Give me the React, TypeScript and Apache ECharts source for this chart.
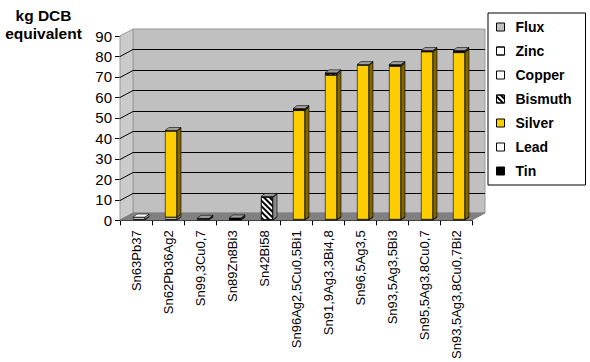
import React, { useEffect, useRef } from "react";
import * as echarts from "echarts";

const categories = [
  "Sn63Pb37",
  "Sn62Pb36Ag2",
  "Sn99,3Cu0,7",
  "Sn89Zn8Bi3",
  "Sn42Bi58",
  "Sn96Ag2,5Cu0,5Bi1",
  "Sn91,9Ag3,3Bi4,8",
  "Sn96,5Ag3,5",
  "Sn93,5Ag3,5Bi3",
  "Sn95,5Ag3,8Cu0,7",
  "Sn93,5Ag3,8Cu0,7Bi2",
];

// stacked from bottom to top
const tin = [0.3, 0.3, 0.2, 0.2, 0.1, 0.2, 0.2, 0.2, 0.2, 0.2, 0.2];
const lead = [1.1, 1.0, 0, 0, 0, 0, 0, 0, 0, 0, 0];
const silver = [0, 41.8, 0, 0, 0, 52.9, 69.9, 74.7, 74.2, 81.2, 80.9];
const bismuth = [0, 0, 0, 0.2, 11.0, 0.3, 0.8, 0, 0.5, 0, 0.3];
const copper = [0, 0, 0.4, 0, 0, 0.2, 0, 0, 0, 0.3, 0.3];
const zinc = [0, 0, 0, 0.4, 0, 0, 0, 0, 0, 0, 0];
const flux = [0, 0.2, 0.2, 0.2, 0.3, 0.3, 0.3, 0.3, 0.3, 0.3, 0.3];

const yTicks = [0, 10, 20, 30, 40, 50, 60, 70, 80, 90];
const legendOrder = ["Flux", "Zinc", "Copper", "Bismuth", "Silver", "Lead", "Tin"];

const FONT = "'Liberation Sans', Arial, sans-serif";
const DX = 13;
const DY = -7;
const BDX = 4;
const BDY = -3;
const BAR_W = 12;

const hatch = {
  symbol: "rect",
  symbolSize: 1,
  dashArrayX: [1, 0],
  dashArrayY: [2, 2],
  rotation: Math.PI / 4,
  color: "#000",
};
const dots = {
  symbol: "circle",
  symbolSize: 0.8,
  dashArrayX: [1, 2],
  dashArrayY: [1, 2],
  color: "#000",
};

const stackDefs = [
  { name: "Tin", data: tin, color: "#000000", side: "#000000", top: "#222222" },
  { name: "Lead", data: lead, color: "#ffffff", side: "#9a9a9a", top: "#ffffff" },
  { name: "Silver", data: silver, color: "#ffcc00", side: "#7f6600", top: "#c8a000" },
  { name: "Bismuth", data: bismuth, color: "#ffffff", side: "#8a8a8a", top: "#dddddd", decal: hatch },
  { name: "Copper", data: copper, color: "#ffffff", side: "#9a9a9a", top: "#eeeeee" },
  { name: "Zinc", data: zinc, color: "#ffffff", side: "#707070", top: "#999999", decal: dots },
  { name: "Flux", data: flux, color: "#c0c0c0", side: "#707070", top: "#a0a0a0" },
];

function renderFrame(params: any, api: any) {
  const bw = api.size([1, 0])[0];
  const c0 = api.coord([0, yTicks[0]]);
  const x0 = Math.round(c0[0] - bw / 2);
  const x1 = Math.round(x0 + bw * categories.length);
  const yb = Math.round(c0[1]);
  const yt = Math.round(api.coord([0, yTicks[yTicks.length - 1]])[1]);
  const children: any[] = [];
  children.push({
    type: "polygon",
    shape: { points: [[x0 + DX, yt + DY], [x1 + DX, yt + DY], [x1 + DX, yb + DY], [x0 + DX, yb + DY]] },
    style: { fill: "#c0c0c0", stroke: "#9a9a9a", lineWidth: 1 },
  });
  children.push({
    type: "polygon",
    shape: { points: [[x0, yt], [x0 + DX, yt + DY], [x0 + DX, yb + DY], [x0, yb]] },
    style: { fill: "#cbcbcb", stroke: "#9a9a9a", lineWidth: 1 },
  });
  children.push({
    type: "polygon",
    shape: { points: [[x0, yb], [x1, yb], [x1 + DX, yb + DY], [x0 + DX, yb + DY]] },
    style: { fill: "#808080", stroke: "#808080", lineWidth: 1 },
  });
  yTicks.forEach((t, k) => {
    if (k === 0 || k === yTicks.length - 1) return;
    const y = Math.round(api.coord([0, t])[1]) + 0.5;
    children.push({
      type: "line",
      shape: { x1: x0 + DX, y1: y + DY, x2: x1 + DX, y2: y + DY },
      style: { stroke: "#000", lineWidth: 1 },
    });
    children.push({
      type: "line",
      shape: { x1: x0, y1: y, x2: x0 + DX, y2: y + DY },
      style: { stroke: "#000", lineWidth: 1 },
    });
  });
  return { type: "group", children };
}

function renderBarFaces(params: any, api: any) {
  const i = api.value(0);
  const cx = api.coord([i, 0])[0];
  const xl = cx - BAR_W / 2;
  const xr = cx + BAR_W / 2;
  let cum = 0;
  let topY: number | null = null;
  let topColor = "#a0a0a0";
  const children: any[] = [];
  stackDefs.forEach((s) => {
    const v = s.data[i];
    if (!v) return;
    const yB = api.coord([i, cum])[1];
    cum += v;
    const yT = api.coord([i, cum])[1];
    children.push({
      type: "polygon",
      shape: { points: [[xr, yT], [xr + BDX, yT + BDY], [xr + BDX, yB + BDY], [xr, yB]] },
      style: { fill: s.side, stroke: "#000", lineWidth: 0.6 },
    });
    topY = yT;
    topColor = s.top;
  });
  if (topY !== null) {
    const yT = topY as number;
    children.push({
      type: "polygon",
      shape: { points: [[xl, yT], [xr, yT], [xr + BDX, yT + BDY], [xl + BDX, yT + BDY]] },
      style: { fill: topColor, stroke: "#000", lineWidth: 0.6 },
    });
  }
  return { type: "group", children };
}

export default function App() {
  const ref = useRef<HTMLDivElement>(null);
  useEffect(() => {
    if (!ref.current) return;
    const chart = echarts.init(ref.current, null, { renderer: "svg" });
    const yMin = yTicks[0];
    const yMax = yTicks[yTicks.length - 1];
    const yInt = yTicks[1] - yTicks[0];
    const option: any = {
      animation: false,
      backgroundColor: "#ffffff",
      textStyle: { fontFamily: FONT },
      grid: [
        { left: 120, top: 36, width: 352, height: 186 },
        { left: 123, top: 34, width: 352, height: 186 },
      ],
      xAxis: [
        {
          type: "category",
          gridIndex: 0,
          data: categories,
          axisLine: { show: true, lineStyle: { color: "#000", width: 1 } },
          axisTick: { show: true, alignWithLabel: false, length: 5, lineStyle: { color: "#000" } },
          axisLabel: {
            rotate: 90,
            interval: 0,
            fontSize: 13,
            color: "#000",
            margin: 10,
            fontFamily: FONT,
          },
          splitLine: { show: false },
        },
        { type: "category", gridIndex: 1, data: categories, show: false },
      ],
      yAxis: [
        {
          type: "value",
          gridIndex: 0,
          min: yMin,
          max: yMax,
          interval: yInt,
          axisLine: { show: true, lineStyle: { color: "#000", width: 1 } },
          axisTick: { show: true, length: 5, lineStyle: { color: "#000" } },
          axisLabel: { fontSize: 15, color: "#000", margin: 8, fontFamily: FONT },
          splitLine: { show: false },
        },
        { type: "value", gridIndex: 1, min: yMin, max: yMax, interval: yInt, show: false },
      ],
      legend: {
        data: legendOrder,
        orient: "vertical",
        left: 488,
        top: 13,
        padding: [7, 14, 7, 8],
        itemWidth: 8,
        itemHeight: 8,
        itemGap: 10,
        icon: "rect",
        selectedMode: false,
        backgroundColor: "#ffffff",
        borderColor: "#000",
        borderWidth: 1,
        borderRadius: 0,
        itemStyle: { borderColor: "#000", borderWidth: 1 },
        textStyle: {
          fontFamily: FONT,
          fontSize: 14,
          fontWeight: "bold",
          color: "#000",
          lineHeight: 14,
          padding: [0, 0, 0, 6],
        },
      },
      graphic: [
        {
          type: "text",
          x: 43.5,
          y: 15,
          style: {
            text: "kg DCB",
            font: `bold 15.5px ${FONT}`,
            fill: "#000",
            align: "center",
            verticalAlign: "middle",
          },
        },
        {
          type: "text",
          x: 43.5,
          y: 33,
          style: {
            text: "equivalent",
            font: `bold 15.5px ${FONT}`,
            fill: "#000",
            align: "center",
            verticalAlign: "middle",
          },
        },
      ],
      series: [
        {
          type: "custom",
          xAxisIndex: 0,
          yAxisIndex: 0,
          z: 1,
          silent: true,
          renderItem: renderFrame,
          data: [[0, 0]],
          encode: { x: 0, y: 1 },
        },
        ...stackDefs.map((s) => ({
          name: s.name,
          type: "bar",
          stack: "total",
          xAxisIndex: 1,
          yAxisIndex: 1,
          z: 2,
          barWidth: BAR_W,
          silent: true,
          itemStyle: {
            color: s.color,
            borderColor: "#000",
            borderWidth: 0.6,
            ...(s.decal ? { decal: s.decal } : {}),
          },
          data: s.data.map((v) => (v ? v : null)),
        })),
        {
          type: "custom",
          xAxisIndex: 1,
          yAxisIndex: 1,
          z: 3,
          silent: true,
          renderItem: renderBarFaces,
          data: categories.map((_, i) => [i, 0]),
          encode: { x: 0, y: 1 },
        },
      ],
    };
    chart.setOption(option);
    return () => chart.dispose();
  }, []);
  return (
    <div
      ref={ref}
      style={{ position: "fixed", left: 0, top: 0, width: 590, height: 362, background: "#fff" }}
    />
  );
}
